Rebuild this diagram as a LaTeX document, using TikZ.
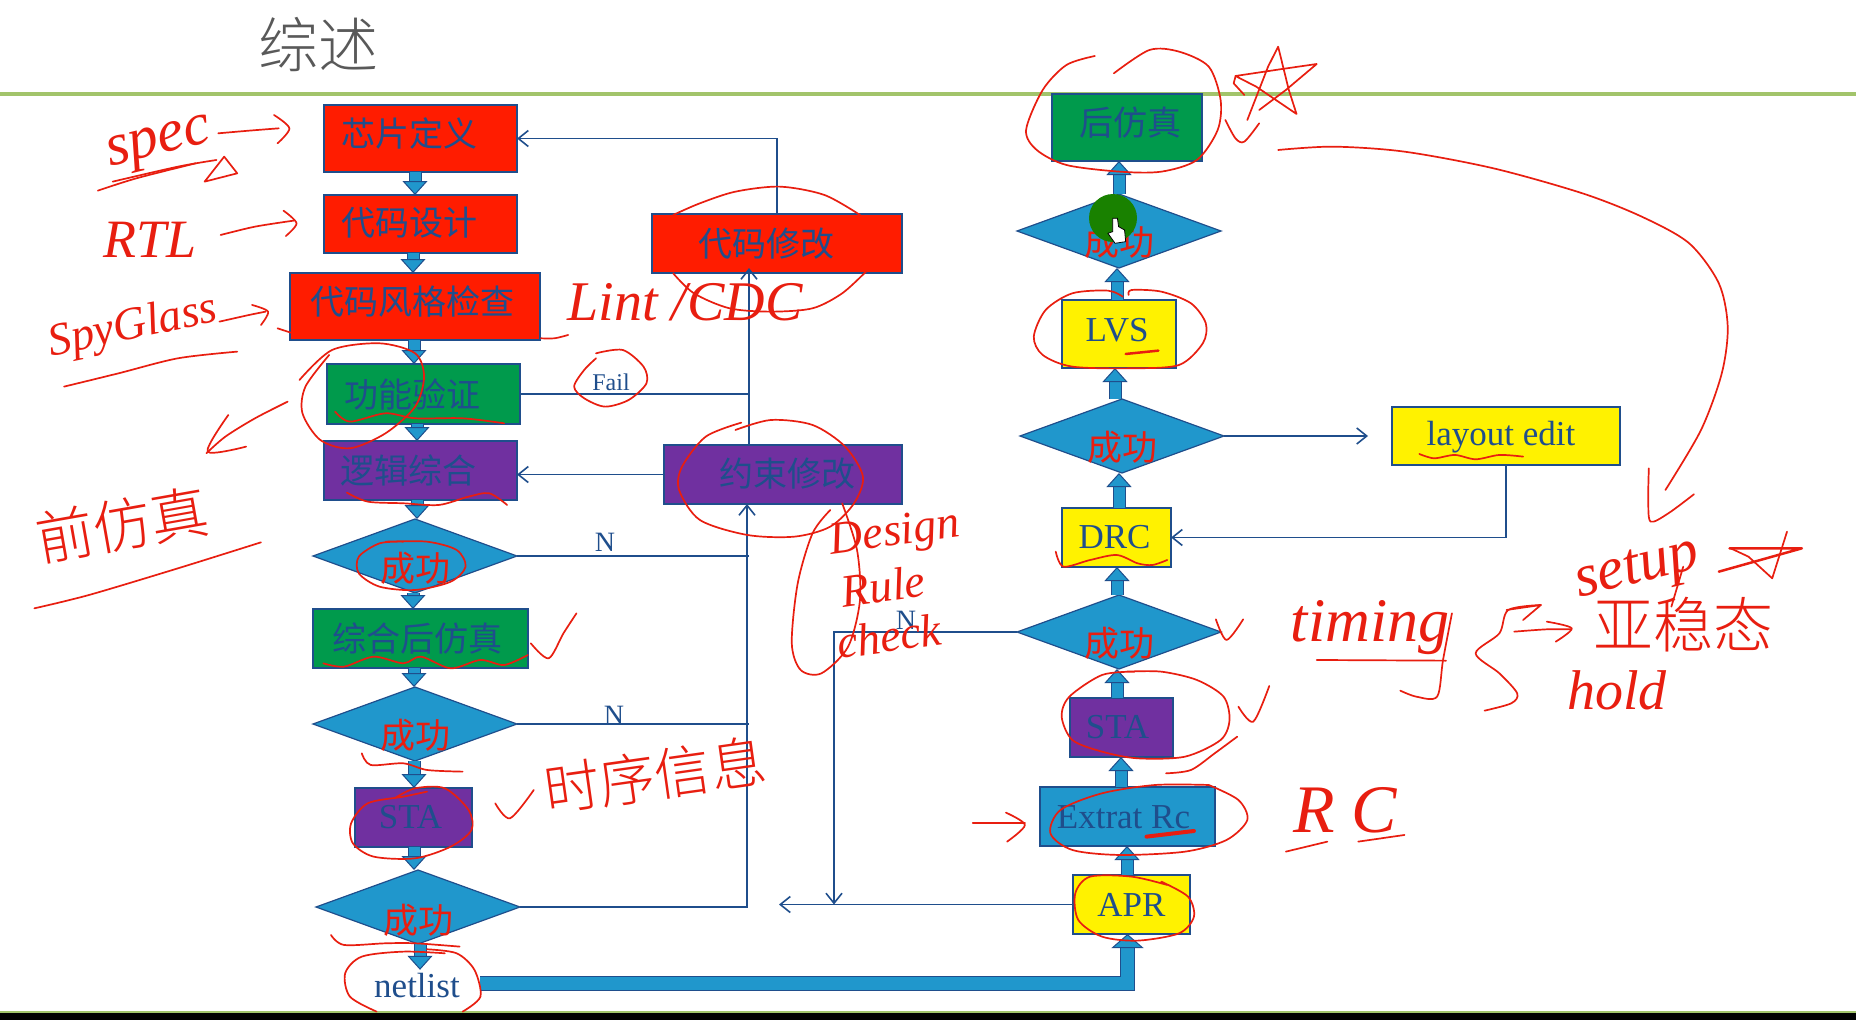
\documentclass[tikz,border=0pt]{standalone}
\usepackage{fontspec}
\usepackage{xcolor}
\usepackage{tikz}
\usetikzlibrary{shapes.geometric,arrows.meta}
\setmainfont{Liberation Serif}
\newfontfamily\cjk{Noto Sans CJK SC}
\newfontfamily\cjkthin{Noto Sans CJK SC Light}

\definecolor{chipred}{HTML}{FF1C00}
\definecolor{flowgreen}{HTML}{009A4C}
\definecolor{flowpurple}{HTML}{7030A0}
\definecolor{flowblue}{HTML}{2097CC}
\definecolor{flowyellow}{HTML}{FFF200}
\definecolor{edgeblue}{HTML}{1F4E8C}
\definecolor{penred}{HTML}{E81E10}
\definecolor{ruleline}{HTML}{A2C46B}

\tikzset{
   stepbox/.style={draw=edgeblue,line width=1.6pt,rectangle,outer sep=0pt,inner sep=0pt},
   decision/.style={draw=edgeblue,line width=1.2pt,fill=flowblue,diamond,shape aspect=2.76,
      inner sep=0pt,outer sep=0pt,minimum width=204pt,minimum height=74pt},
   stepText/.style={text=edgeblue,font=\cjk\fontsize{34}{40}\selectfont,inner sep=0pt},
   latinText/.style={text=edgeblue,font=\fontsize{35}{40}\selectfont,inner sep=0pt},
   okText/.style={text=penred,font=\cjk\fontsize{35}{40}\selectfont,inner sep=0pt},
   flowline/.style={draw=edgeblue,line width=1.6pt},
   backarrow/.style={-{Straight Barb[length=10pt,width=16pt]}},
   blockarrow/.style={draw=edgeblue,line width=1pt,double=flowblue,double distance=11pt,
      -{Triangle[length=14pt,width=25pt,fill=flowblue]}},
   pen/.style={draw=penred,line width=1.7pt,line cap=round,line join=round},
   hand/.style={text=penred,font=\itshape\fontsize{#1}{#1}\selectfont,inner sep=0pt},
   handcjk/.style={text=penred,font=\cjkthin\fontsize{#1}{#1}\selectfont,inner sep=0pt},
   % the pen strokes are written in the scale of the four crops
   cropA/.style={x=0.5931pt,y=-0.3333pt},
   cropB/.style={shift={(0,500)},x=0.5931pt,y=-0.3333pt},
   cropC/.style={shift={(930,0)},x=0.5931pt,y=-0.3333pt},
   cropD/.style={shift={(930,500)},x=0.5931pt,y=-0.3333pt},
}

\begin{document}
\begin{tikzpicture}[x=1pt,y=-1pt]
   \useasboundingbox (0,0) rectangle (1856,1020);
   \fill[white] (0,0) rectangle (1856,1020);

   % title and slide rules
   \node[text=black!65,font=\cjkthin\fontsize{60}{60}\selectfont,inner sep=0pt] (title) at (318,45) {综述};
   \fill[ruleline] (0,92) rectangle (1856,96);
   \fill[ruleline] (0,1011) rectangle (1856,1014);
   \fill[black] (0,1013) rectangle (1856,1020);

   % left column
   \node[stepbox,fill=chipred,minimum width=193pt,minimum height=67pt,label={[stepText,xshift=-11pt,yshift=5pt]center:芯片定义}] (defn) at (420.5,138.5) {};
   \node[stepbox,fill=chipred,minimum width=193pt,minimum height=58pt,label={[stepText,xshift=-11pt,yshift=1pt]center:代码设计}] (rtl) at (420.5,224) {};
   \node[stepbox,fill=chipred,minimum width=250pt,minimum height=67pt,label={[stepText,xshift=-3pt,yshift=5pt]center:代码风格检查}] (lint) at (415,306.5) {};
   \node[stepbox,fill=flowgreen,minimum width=193pt,minimum height=60pt,label={[stepText,xshift=-11pt]center:功能验证}] (verify) at (423.5,394) {};
   \node[stepbox,fill=flowpurple,minimum width=193pt,minimum height=59pt,label={[stepText,xshift=-12pt]center:逻辑综合}] (logic) at (420.5,470.5) {};
   \node[decision,label={[okText,yshift=-12pt]center:成功}] (diaA) at (415,556) {};
   \node[stepbox,fill=flowgreen,minimum width=215pt,minimum height=59pt,label={[stepText,xshift=-3pt]center:综合后仿真}] (postsyn) at (420.5,638.5) {};
   \node[decision,label={[okText,yshift=-11pt]center:成功}] (diaB) at (415,724) {};
   \node[stepbox,fill=flowpurple,minimum width=117pt,minimum height=59pt,label={[latinText,xshift=-3pt]center:STA}] (staA) at (413.5,817.5) {};
   \node[decision,label={[okText,yshift=-13pt]center:成功}] (diaC) at (418,907) {};
   \node[latinText,minimum width=126pt,minimum height=32pt] (netlist) at (417,986) {netlist};

   % fix boxes
   \node[stepbox,fill=chipred,minimum width=250pt,minimum height=59pt,label={[stepText,xshift=-11pt]center:代码修改}] (fix) at (777,243.5) {};
   \node[stepbox,fill=flowpurple,minimum width=238pt,minimum height=59pt,label={[stepText,xshift=4pt,yshift=1pt]center:约束修改}] (constraint) at (783,474.5) {};

   % right column
   \node[stepbox,fill=flowyellow,minimum width=117pt,minimum height=59pt,label={[latinText]center:APR}] (apr) at (1131.5,904.5) {};
   \node[stepbox,fill=flowblue,minimum width=175pt,minimum height=59pt,label={[latinText,xshift=-4pt,yshift=-1pt]center:Extrat Rc}] (extract) at (1127.5,816.5) {};
   \node[stepbox,fill=flowpurple,minimum width=103pt,minimum height=59pt,label={[latinText,xshift=-4pt]center:STA}] (staB) at (1121.5,727.5) {};
   \node[decision,label={[okText,yshift=-11pt]center:成功}] (diaD) at (1119,632) {};
   \node[stepbox,fill=flowyellow,minimum width=109pt,minimum height=59pt,label={[latinText,xshift=-2pt]center:DRC}] (drc) at (1116.5,537.5) {};
   \node[decision,label={[okText,yshift=-11pt]center:成功}] (diaE) at (1122,436) {};
   \node[stepbox,fill=flowyellow,minimum width=228pt,minimum height=58pt,label={[latinText,xshift=-5pt,yshift=-1pt]center:layout edit}] (layout) at (1506,436) {};
   \node[stepbox,fill=flowyellow,minimum width=114pt,minimum height=68pt,label={[latinText,xshift=-2pt,yshift=4pt]center:LVS}] (lvs) at (1119,334) {};
   \node[decision,label={[okText,yshift=-11pt]center:成功}] (diaF) at (1119,231) {};
   \node[stepbox,fill=flowgreen,minimum width=150pt,minimum height=67pt,label={[stepText,xshift=3pt,yshift=5pt]center:后仿真}] (postlayout) at (1127,127.5) {};

   % free ends of the loop-back lines
   \coordinate (busA) at (749,394);
   \coordinate (busB) at (747,504);
   \coordinate (busC) at (834,904.5);
   \coordinate (aprEnd) at (779,904.5);

   % thin connectors
   \draw[flowline,backarrow] (fix.north) |- (defn.east);
   \draw[flowline,backarrow] (constraint.west) -- (constraint.west -| logic.east);
   \draw[flowline,backarrow,shorten >=-5pt] (constraint.north -| busA) -- (fix.south -| busA);
   \draw[flowline] (verify.east) -- (verify.east -| busA);
   \draw[flowline,backarrow] (diaC.east) -| (busB);
   \draw[flowline] (diaA.east) -- (diaA.east -| busA);
   \draw[flowline] (diaB.east) -- (diaB.east -| busA);
   \draw[flowline,backarrow] (diaD.west) -| (busC);
   \draw[flowline,backarrow] (apr.west) -- (aprEnd);
   \draw[flowline,backarrow,shorten >=24pt] (diaE.east) -- (layout.west);
   \draw[flowline,backarrow] (layout.south) |- (drc.east);

   % block arrows, down the left column and up the right one
   \foreach \x/\a/\b in {415/defn/rtl,413/rtl/lint,414/lint/verify,417/verify/logic,417/logic/diaA,413/diaA/postsyn,414/postsyn/diaB,414/diaB/staA,414/staA/diaC,420/diaC/netlist}
   \draw[blockarrow] (\x,0 |- \a.south) -- (\x,0 |- \b.north);
   \foreach \x/\a/\b in {1127/apr/extract,1121/extract/staB,1117/staB/diaD,1117/diaD/drc,1119/drc/diaE,1115/diaE/lvs,1117/lvs/diaF,1119/diaF/postlayout}
   \draw[blockarrow] (\x,0 |- \a.north) -- (\x,0 |- \b.south);
   \draw[blockarrow,double distance=13pt,-{Triangle[length=14pt,width=32pt,fill=flowblue]}] ([yshift=3pt]netlist.east) -| ([xshift=-4pt]apr.south);

   \node[latinText,font=\fontsize{24}{28}\selectfont] (failText) at (611,382) {Fail};
   \node[latinText,font=\fontsize{28}{30}\selectfont] (nA) at (605,542) {N};
   \node[latinText,font=\fontsize{28}{30}\selectfont] (nB) at (614,715) {N};
   \node[latinText,font=\fontsize{28}{30}\selectfont] (nC) at (906,620) {N};

   % pointer blob
   \fill[green!45!black!90!yellow] (1113,218) circle (24);
   \begin{scope}[cropC]
      \draw[fill=white,line width=0.8pt] (308,655) -- (316,655) -- (318,680) -- (328,690) -- (330,725) -- (312,730) -- (300,700) -- (308,695) -- cycle;
   \end{scope}

   % handwriting
   \node[hand=60,rotate=14] (specText) at (160,146) {spec};
   \node[hand=54] (rtlText) at (150,240) {RTL};
   \node[hand=46,rotate=12] (glassText) at (133,328) {SpyGlass};
   \node[hand=56] (cdcText) at (685,302) {Lint /CDC};
   \node[handcjk=58,rotate=10] (preText) at (122,525) {前仿真};
   \node[hand=46,rotate=8] (designText) at (895,535) {Design};
   \node[hand=46,rotate=8] (ruleText) at (883,586) {Rule};
   \node[hand=46,rotate=8] (checkText) at (889,636) {check};
   \node[handcjk=56,rotate=8] (timeText) at (655,775) {时序信息};
   \node[hand=62] (timingText) at (1370,628) {timing};
   \node[hand=60,rotate=14] (setupText) at (1638,572) {setup};
   \node[handcjk=60] (metaText) at (1683,625) {亚稳态};
   \node[hand=56] (holdText) at (1617,690) {hold};
   \node[hand=68] (rcText) at (1345,810) {R C};

   \begin{scope}[cropA]
      % spec
      \draw[pen] plot[smooth] coordinates {(368,400) (420,392) (470,385)};
      \draw[pen] plot[smooth] coordinates {(462,345) (488,385) (468,430)};
      \draw[pen] plot[smooth] coordinates {(165,572) (230,535) (330,490)};
      \draw[pen] plot[smooth] coordinates {(190,545) (300,500) (365,480)};
      \draw[pen] (345,545) -- (378,470) -- (400,520) -- cycle;
      % RTL
      \draw[pen] plot[smooth] coordinates {(372,705) (430,680) (495,662)};
      \draw[pen] plot[smooth] coordinates {(478,632) (500,670) (482,708)};
      % SpyGlass
      \draw[pen] plot[smooth] coordinates {(370,965) (420,945) (448,935)};
      \draw[pen] plot[smooth] coordinates {(425,915) (452,935) (440,975)};
      \draw[pen] plot[smooth] coordinates {(108,1160) (200,1120) (300,1075) (400,1055)};
      \draw[pen] plot[smooth] coordinates {(468,985) (490,998)};
      \draw[pen] plot[smooth] coordinates {(912,1015) (935,1015) (958,1005)};
      % fix box
      \draw[pen] plot[smooth] coordinates {(1135,645) (1180,610) (1240,575) (1315,560) (1390,585) (1450,645)};
      \draw[pen] plot[smooth] coordinates {(1135,820) (1170,880) (1230,925) (1300,935) (1370,925) (1420,880) (1460,815)};
      % Fail
      \draw[pen] plot[smooth] coordinates {(1005,1060) (1050,1050) (1085,1100) (1090,1150) (1060,1200) (1020,1220) (985,1195) (968,1160) (985,1110) (1005,1075)};
      % verify
      \draw[pen] plot[smooth] coordinates {(505,1140) (560,1050) (640,1030) (700,1060) (715,1130) (700,1220) (650,1300) (590,1345) (540,1320) (510,1240) (515,1160) (555,1065)};
      \draw[pen] plot[smooth] coordinates {(565,1235) (590,1265) (650,1240) (700,1255) (780,1255) (850,1270)};
      \draw[pen] plot[smooth] coordinates {(485,1205) (430,1255) (380,1310) (348,1360)};
      \draw[pen] plot[smooth] coordinates {(385,1245) (350,1355) (415,1340)};
      % logic
      \draw[pen] plot[smooth] coordinates {(585,1478) (620,1505) (680,1510) (740,1515) (790,1490) (825,1480) (855,1515)};
      % constraint box
      \draw[pen] plot[smooth] coordinates {(1240,1290) (1300,1260) (1370,1275) (1425,1340) (1455,1430) (1440,1510) (1400,1580) (1340,1610) (1260,1605) (1180,1560) (1145,1470) (1150,1400) (1190,1310) (1250,1268)};
   \end{scope}

   \begin{scope}[cropB]
      \draw[pen] plot[smooth] coordinates {(58,325) (150,285) (300,205) (440,127)};
      % Design Rule check
      \draw[pen] plot[smooth] coordinates {(1420,10) (1445,150) (1450,300) (1430,440) (1385,520) (1350,510) (1335,430) (1345,250) (1370,100) (1400,30)};
      % first decision
      \draw[pen] plot[smooth] coordinates {(680,125) (640,130) (605,170) (605,220) (640,260) (700,270) (760,245) (785,200) (770,150) (720,125) (650,125)};
      % post synthesis
      \draw[pen] plot[smooth] coordinates {(545,490) (580,500) (630,470) (680,490) (710,470) (760,505) (810,480) (850,495) (890,465)};
      \draw[pen] plot[smooth] coordinates {(895,430) (925,475) (950,400) (972,340)};
      \draw[pen] plot[smooth] coordinates {(610,760) (625,795) (680,790) (720,810) (780,815)};
      % STA
      \draw[pen] plot[smooth] coordinates {(665,895) (700,865) (750,865) (790,930) (795,990) (760,1040) (700,1075) (630,1070) (595,1030) (592,970) (620,910) (680,890) (720,875)};
      \draw[pen] plot[smooth] coordinates {(835,910) (860,955) (900,870)};
      \draw[pen] plot[smooth] coordinates {(558,1305) (580,1335) (650,1330) (700,1330) (775,1340)};
      % netlist
      \draw[pen] plot[smooth] coordinates {(720,1348) (770,1360) (800,1410) (810,1490) (780,1535)};
      \draw[pen] plot[smooth] coordinates {(635,1535) (590,1490) (582,1420) (610,1370) (680,1355) (750,1360)};
   \end{scope}

   \begin{scope}[cropC]
      % post layout and star
      \draw[pen] plot[smooth] coordinates {(278,168) (230,195) (190,270) (162,390) (180,450) (230,495) (320,515) (390,515) (450,480) (485,390) (490,300) (470,200) (420,155) (370,150) (310,220)};
      \draw[pen] (535,360) -- (570,200) -- (587,140) -- (605,270) -- (618,342) -- (550,260) -- (515,228) -- (590,208) -- (652,192) -- (600,270) -- (555,330);
      \draw[pen] (515,230) -- (512,250) -- (530,285);
      \draw[pen] plot[smooth] coordinates {(498,360) (515,415) (530,425) (555,370)};
      % long arrow to setup
      \draw[pen] plot[smooth] coordinates {(587,450) (680,440) (800,455) (950,505) (1100,580) (1200,650) (1280,730) (1330,850) (1345,980) (1335,1120) (1300,1290) (1240,1470)};
      \draw[pen] plot[smooth] coordinates {(1212,1405) (1211,1500) (1215,1565) (1245,1540) (1288,1483)};
      % LVS
      \draw[pen] plot[smooth] coordinates {(325,890) (300,872) (240,880) (195,930) (175,1010) (190,1065) (240,1100) (340,1105) (420,1095) (460,1030) (465,970) (440,910) (390,875) (340,870) (335,885)};
      \draw[pen,line width=2.5pt] (330,1062) -- (385,1052);
      \draw[pen] plot[smooth] coordinates {(825,1362) (850,1375) (885,1365) (920,1378) (960,1365) (1000,1370)};
   \end{scope}

   \begin{scope}[cropD]
      \draw[pen] plot[smooth] coordinates {(212,155) (225,200) (270,180) (315,165) (350,190) (375,195) (400,180)};
      \draw[pen] plot[smooth] coordinates {(482,358) (500,420) (528,358)};
      % timing
      \draw[pen] (652,480) -- (870,482);
      \draw[pen] plot[smooth] coordinates {(880,340) (865,480) (855,590) (820,590) (793,572)};
      \draw[pen] plot[smooth] coordinates {(1030,315) (975,330) (960,400) (920,460) (960,520) (990,580) (980,610) (935,632)};
      \draw[pen] (972,330) -- (1030,315) -- (1000,360);
      \draw[pen] plot[smooth] coordinates {(985,395) (1040,388) (1080,388)};
      \draw[pen] plot[smooth] coordinates {(1040,365) (1082,385) (1055,425)};
      % setup star
      \draw[pen,line width=2.5pt] (1348,145) -- (1470,145) -- (1330,215);
      \draw[pen] (1445,95) -- (1420,235) -- (1380,170) -- (1350,145);
      \draw[pen] (1270,200) -- (1250,320);
      % STA
      \draw[pen] plot[smooth] coordinates {(345,515) (290,525) (235,590) (222,650) (240,720) (290,755) (350,775) (430,770) (490,720) (505,660) (495,590) (450,540) (390,515) (330,515)};
      \draw[pen] plot[smooth] coordinates {(518,710) (480,760) (440,810) (398,820)};
      \draw[pen] plot[smooth] coordinates {(520,620) (545,665) (572,558)};
      % Extrat Rc
      \draw[pen] plot[smooth] coordinates {(470,855) (380,855) (290,880) (220,930) (203,1000) (240,1050) (320,1065) (430,1055) (500,1020) (535,960) (520,900) (470,855)};
      \draw[pen,line width=4pt] (365,1010) -- (445,993);
      \draw[pen] (72,970) -- (160,970);
      \draw[pen] plot[smooth] coordinates {(128,938) (160,975) (130,1025)};
      % R C
      \draw[pen] (600,1055) -- (670,1025);
      \draw[pen] (722,1025) -- (800,1005);
      % APR
      \draw[pen] plot[smooth] coordinates {(400,1155) (340,1130) (270,1130) (245,1180) (250,1260) (290,1310) (350,1322) (420,1300) (445,1250) (435,1190) (390,1145)};
   \end{scope}
\end{tikzpicture}
\end{document}
